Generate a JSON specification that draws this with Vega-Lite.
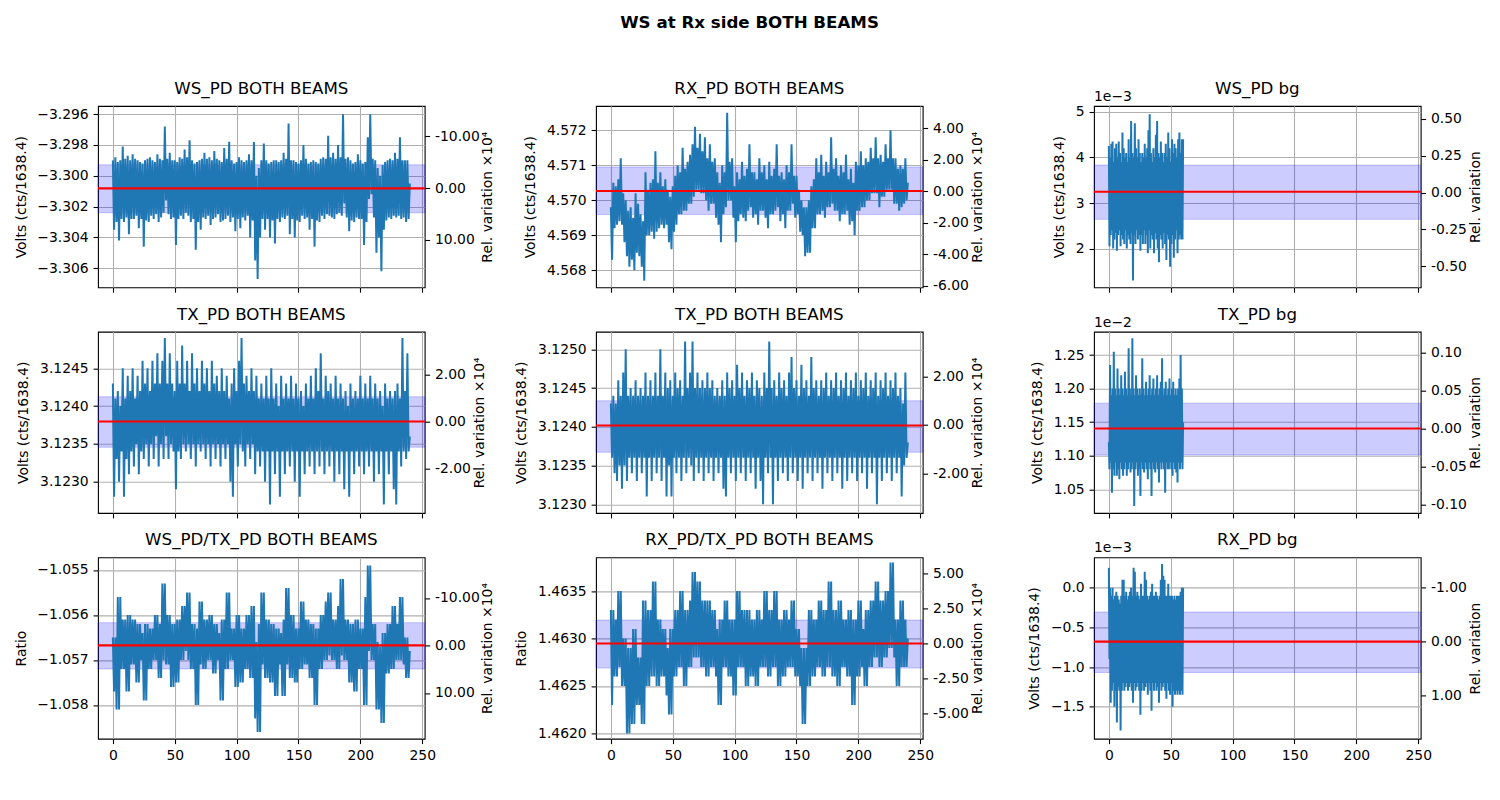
{
  "$schema": "https://vega.github.io/schema/vega-lite/v6.json",
  "title": {"text": "WS at Rx side BOTH BEAMS", "fontWeight": "bold", "fontSize": 16.67, "anchor": "middle", "offset": 49, "dx": 1.5},
  "padding": {"left": 13, "top": 14, "right": 0, "bottom": 0},
  "background": "white",
  "config": {
    "font": "DejaVu Sans",
    "view": {"stroke": "black", "strokeWidth": 1.1},
    "title": {"font": "DejaVu Sans", "fontSize": 16.67, "fontWeight": "normal", "color": "black", "offset": 8.3, "baseline": "alphabetic"},
    "axis": {
      "domain": false, "grid": false, "tickCount": 12,
      "labelFont": "DejaVu Sans", "labelFontSize": 13.9, "labelColor": "black", "labelPadding": 4.9,
      "labelFlush": false, "labelOverlap": false, "labelBound": false,
      "titleFont": "DejaVu Sans", "titleFontSize": 13.9, "titleFontWeight": "normal", "titleColor": "black", "titlePadding": 5.6,
      "tickColor": "black", "tickSize": 4.9, "tickWidth": 1.1,
      "gridColor": "#b0b0b0", "gridWidth": 1.1
    },
    "axisLeft": {"titlePadding": 8.6},
    "axisRight": {"titlePadding": 1.6}
  },
  "datasets": {
    "main": [
      {"t":0,"a":-3.2990,"b":4.5698,"c":3.1243,"d":3.1243,"e":-1.0565,"f":1.4633},
      {"t":1,"a":-3.3035,"b":4.5683,"c":3.1228,"d":3.1236,"e":-1.0577,"f":1.4623},
      {"t":2,"a":-3.2988,"b":4.5705,"c":3.1241,"d":3.1244,"e":-1.0565,"f":1.4633},
      {"t":3,"a":-3.3030,"b":4.5692,"c":3.1233,"d":3.1234,"e":-1.0581,"f":1.4626},
      {"t":4,"a":-3.2991,"b":4.5704,"c":3.1242,"d":3.1243,"e":-1.0556,"f":1.4632},
      {"t":5,"a":-3.3042,"b":4.5693,"c":3.1230,"d":3.1233,"e":-1.0581,"f":1.4626},
      {"t":6,"a":-3.2990,"b":4.5706,"c":3.1240,"d":3.1246,"e":-1.0556,"f":1.4635},
      {"t":7,"a":-3.3028,"b":4.5694,"c":3.1234,"d":3.1235,"e":-1.0572,"f":1.4627},
      {"t":8,"a":-3.2981,"b":4.5712,"c":3.1245,"d":3.1244,"e":-1.0561,"f":1.4635},
      {"t":9,"a":-3.3030,"b":4.5693,"c":3.1228,"d":3.1232,"e":-1.0572,"f":1.4625},
      {"t":10,"a":-3.2989,"b":4.5702,"c":3.1241,"d":3.1247,"e":-1.0561,"f":1.4630},
      {"t":11,"a":-3.3027,"b":4.5688,"c":3.1233,"d":3.1235,"e":-1.0577,"f":1.4625},
      {"t":12,"a":-3.2987,"b":4.5700,"c":3.1244,"d":3.1250,"e":-1.0560,"f":1.4630},
      {"t":13,"a":-3.3038,"b":4.5684,"c":3.1231,"d":3.1233,"e":-1.0577,"f":1.4620},
      {"t":14,"a":-3.2990,"b":4.5697,"c":3.1242,"d":3.1244,"e":-1.0560,"f":1.4629},
      {"t":15,"a":-3.3028,"b":4.5681,"c":3.1234,"d":3.1236,"e":-1.0571,"f":1.4620},
      {"t":16,"a":-3.2986,"b":4.5698,"c":3.1245,"d":3.1245,"e":-1.0561,"f":1.4629},
      {"t":17,"a":-3.3028,"b":4.5683,"c":3.1232,"d":3.1234,"e":-1.0571,"f":1.4621},
      {"t":18,"a":-3.2989,"b":4.5695,"c":3.1241,"d":3.1244,"e":-1.0561,"f":1.4631},
      {"t":19,"a":-3.3026,"b":4.5680,"c":3.1235,"d":3.1236,"e":-1.0575,"f":1.4621},
      {"t":20,"a":-3.2990,"b":4.5702,"c":3.1244,"d":3.1246,"e":-1.0562,"f":1.4631},
      {"t":21,"a":-3.3034,"b":4.5685,"c":3.1231,"d":3.1233,"e":-1.0575,"f":1.4623},
      {"t":22,"a":-3.2991,"b":4.5699,"c":3.1242,"d":3.1244,"e":-1.0562,"f":1.4628},
      {"t":23,"a":-3.3028,"b":4.5684,"c":3.1234,"d":3.1236,"e":-1.0570,"f":1.4623},
      {"t":24,"a":-3.2992,"b":4.5696,"c":3.1246,"d":3.1245,"e":-1.0564,"f":1.4628},
      {"t":25,"a":-3.3046,"b":4.5681,"c":3.1233,"d":3.1234,"e":-1.0579,"f":1.4621},
      {"t":26,"a":-3.2990,"b":4.5694,"c":3.1243,"d":3.1244,"e":-1.0562,"f":1.4634},
      {"t":27,"a":-3.3029,"b":4.5677,"c":3.1235,"d":3.1236,"e":-1.0579,"f":1.4621},
      {"t":28,"a":-3.2989,"b":4.5708,"c":3.1245,"d":3.1247,"e":-1.0562,"f":1.4634},
      {"t":29,"a":-3.3030,"b":4.5690,"c":3.1232,"d":3.1231,"e":-1.0572,"f":1.4625},
      {"t":30,"a":-3.2988,"b":4.5703,"c":3.1242,"d":3.1244,"e":-1.0563,"f":1.4633},
      {"t":31,"a":-3.3026,"b":4.5690,"c":3.1235,"d":3.1236,"e":-1.0572,"f":1.4625},
      {"t":32,"a":-3.2990,"b":4.5705,"c":3.1246,"d":3.1246,"e":-1.0563,"f":1.4633},
      {"t":33,"a":-3.3028,"b":4.5691,"c":3.1233,"d":3.1233,"e":-1.0570,"f":1.4626},
      {"t":34,"a":-3.2991,"b":4.5706,"c":3.1243,"d":3.1244,"e":-1.0560,"f":1.4636},
      {"t":35,"a":-3.3025,"b":4.5689,"c":3.1236,"d":3.1236,"e":-1.0570,"f":1.4626},
      {"t":36,"a":-3.2986,"b":4.5714,"c":3.1247,"d":3.1247,"e":-1.0560,"f":1.4636},
      {"t":37,"a":-3.3030,"b":4.5691,"c":3.1232,"d":3.1234,"e":-1.0574,"f":1.4625},
      {"t":38,"a":-3.2989,"b":4.5705,"c":3.1243,"d":3.1244,"e":-1.0562,"f":1.4632},
      {"t":39,"a":-3.3027,"b":4.5692,"c":3.1235,"d":3.1236,"e":-1.0574,"f":1.4625},
      {"t":40,"a":-3.2990,"b":4.5708,"c":3.1246,"d":3.1250,"e":-1.0553,"f":1.4632},
      {"t":41,"a":-3.3024,"b":4.5693,"c":3.1233,"d":3.1233,"e":-1.0570,"f":1.4626},
      {"t":42,"a":-3.2968,"b":4.5704,"c":3.1249,"d":3.1244,"e":-1.0553,"f":1.4631},
      {"t":43,"a":-3.3016,"b":4.5692,"c":3.1236,"d":3.1236,"e":-1.0571,"f":1.4626},
      {"t":44,"a":-3.2989,"b":4.5706,"c":3.1243,"d":3.1247,"e":-1.0560,"f":1.4631},
      {"t":45,"a":-3.3025,"b":4.5693,"c":3.1233,"d":3.1231,"e":-1.0571,"f":1.4624},
      {"t":46,"a":-3.2985,"b":4.5703,"c":3.1247,"d":3.1245,"e":-1.0560,"f":1.4629},
      {"t":47,"a":-3.3028,"b":4.5688,"c":3.1235,"d":3.1235,"e":-1.0576,"f":1.4622},
      {"t":48,"a":-3.2990,"b":4.5701,"c":3.1243,"d":3.1246,"e":-1.0562,"f":1.4631},
      {"t":49,"a":-3.3027,"b":4.5686,"c":3.1234,"d":3.1231,"e":-1.0576,"f":1.4622},
      {"t":50,"a":-3.2990,"b":4.5704,"c":3.1242,"d":3.1244,"e":-1.0562,"f":1.4631},
      {"t":51,"a":-3.3045,"b":4.5691,"c":3.1229,"d":3.1236,"e":-1.0575,"f":1.4626},
      {"t":52,"a":-3.2991,"b":4.5707,"c":3.1246,"d":3.1247,"e":-1.0561,"f":1.4633},
      {"t":53,"a":-3.3028,"b":4.5693,"c":3.1234,"d":3.1234,"e":-1.0575,"f":1.4626},
      {"t":54,"a":-3.2988,"b":4.5710,"c":3.1243,"d":3.1245,"e":-1.0561,"f":1.4633},
      {"t":55,"a":-3.3026,"b":4.5696,"c":3.1233,"d":3.1236,"e":-1.0570,"f":1.4627},
      {"t":56,"a":-3.2989,"b":4.5708,"c":3.1248,"d":3.1246,"e":-1.0558,"f":1.4635},
      {"t":57,"a":-3.3028,"b":4.5696,"c":3.1235,"d":3.1233,"e":-1.0570,"f":1.4627},
      {"t":58,"a":-3.2983,"b":4.5715,"c":3.1243,"d":3.1244,"e":-1.0558,"f":1.4635},
      {"t":59,"a":-3.3024,"b":4.5697,"c":3.1234,"d":3.1236,"e":-1.0568,"f":1.4625},
      {"t":60,"a":-3.2988,"b":4.5709,"c":3.1246,"d":3.1251,"e":-1.0555,"f":1.4633},
      {"t":61,"a":-3.3026,"b":4.5697,"c":3.1235,"d":3.1234,"e":-1.0570,"f":1.4625},
      {"t":62,"a":-3.2977,"b":4.5711,"c":3.1242,"d":3.1245,"e":-1.0555,"f":1.4633},
      {"t":63,"a":-3.3030,"b":4.5699,"c":3.1233,"d":3.1236,"e":-1.0572,"f":1.4627},
      {"t":64,"a":-3.2990,"b":4.5713,"c":3.1247,"d":3.1247,"e":-1.0562,"f":1.4634},
      {"t":65,"a":-3.3028,"b":4.5699,"c":3.1235,"d":3.1235,"e":-1.0572,"f":1.4627},
      {"t":66,"a":-3.2992,"b":4.5716,"c":3.1243,"d":3.1251,"e":-1.0562,"f":1.4637},
      {"t":67,"a":-3.3048,"b":4.5701,"c":3.1232,"d":3.1233,"e":-1.0580,"f":1.4628},
      {"t":68,"a":-3.2991,"b":4.5721,"c":3.1245,"d":3.1245,"e":-1.0563,"f":1.4637},
      {"t":69,"a":-3.3030,"b":4.5703,"c":3.1235,"d":3.1236,"e":-1.0580,"f":1.4628},
      {"t":70,"a":-3.2990,"b":4.5715,"c":3.1242,"d":3.1247,"e":-1.0557,"f":1.4636},
      {"t":71,"a":-3.3035,"b":4.5703,"c":3.1234,"d":3.1234,"e":-1.0571,"f":1.4628},
      {"t":72,"a":-3.2989,"b":4.5719,"c":3.1246,"d":3.1245,"e":-1.0557,"f":1.4636},
      {"t":73,"a":-3.3027,"b":4.5702,"c":3.1235,"d":3.1236,"e":-1.0572,"f":1.4627},
      {"t":74,"a":-3.2985,"b":4.5714,"c":3.1243,"d":3.1246,"e":-1.0561,"f":1.4634},
      {"t":75,"a":-3.3028,"b":4.5702,"c":3.1233,"d":3.1233,"e":-1.0572,"f":1.4627},
      {"t":76,"a":-3.2989,"b":4.5718,"c":3.1245,"d":3.1245,"e":-1.0561,"f":1.4634},
      {"t":77,"a":-3.3026,"b":4.5700,"c":3.1235,"d":3.1236,"e":-1.0570,"f":1.4626},
      {"t":78,"a":-3.2988,"b":4.5712,"c":3.1242,"d":3.1247,"e":-1.0560,"f":1.4634},
      {"t":79,"a":-3.3032,"b":4.5697,"c":3.1232,"d":3.1234,"e":-1.0570,"f":1.4626},
      {"t":80,"a":-3.2990,"b":4.5716,"c":3.1246,"d":3.1245,"e":-1.0560,"f":1.4634},
      {"t":81,"a":-3.3028,"b":4.5699,"c":3.1235,"d":3.1236,"e":-1.0573,"f":1.4627},
      {"t":82,"a":-3.2984,"b":4.5711,"c":3.1243,"d":3.1246,"e":-1.0562,"f":1.4633},
      {"t":83,"a":-3.3027,"b":4.5699,"c":3.1233,"d":3.1233,"e":-1.0573,"f":1.4627},
      {"t":84,"a":-3.2989,"b":4.5712,"c":3.1244,"d":3.1244,"e":-1.0562,"f":1.4633},
      {"t":85,"a":-3.3025,"b":4.5695,"c":3.1235,"d":3.1236,"e":-1.0570,"f":1.4626},
      {"t":86,"a":-3.2990,"b":4.5708,"c":3.1242,"d":3.1245,"e":-1.0564,"f":1.4631},
      {"t":87,"a":-3.3030,"b":4.5693,"c":3.1232,"d":3.1234,"e":-1.0579,"f":1.4623},
      {"t":88,"a":-3.2991,"b":4.5705,"c":3.1245,"d":3.1244,"e":-1.0561,"f":1.4632},
      {"t":89,"a":-3.3029,"b":4.5688,"c":3.1235,"d":3.1236,"e":-1.0579,"f":1.4623},
      {"t":90,"a":-3.2982,"b":4.5710,"c":3.1242,"d":3.1246,"e":-1.0561,"f":1.4632},
      {"t":91,"a":-3.3028,"b":4.5696,"c":3.1233,"d":3.1232,"e":-1.0572,"f":1.4627},
      {"t":92,"a":-3.2989,"b":4.5708,"c":3.1244,"d":3.1244,"e":-1.0555,"f":1.4634},
      {"t":93,"a":-3.3026,"b":4.5698,"c":3.1235,"d":3.1231,"e":-1.0572,"f":1.4627},
      {"t":94,"a":-3.2978,"b":4.5725,"c":3.1241,"d":3.1247,"e":-1.0555,"f":1.4634},
      {"t":95,"a":-3.3030,"b":4.5700,"c":3.1230,"d":3.1236,"e":-1.0570,"f":1.4626},
      {"t":96,"a":-3.2990,"b":4.5711,"c":3.1243,"d":3.1245,"e":-1.0563,"f":1.4632},
      {"t":97,"a":-3.3027,"b":4.5700,"c":3.1228,"d":3.1234,"e":-1.0570,"f":1.4626},
      {"t":98,"a":-3.2992,"b":4.5712,"c":3.1245,"d":3.1246,"e":-1.0563,"f":1.4632},
      {"t":99,"a":-3.3036,"b":4.5695,"c":3.1235,"d":3.1236,"e":-1.0576,"f":1.4624},
      {"t":100,"a":-3.2991,"b":4.5704,"c":3.1242,"d":3.1244,"e":-1.0560,"f":1.4632},
      {"t":101,"a":-3.3028,"b":4.5688,"c":3.1232,"d":3.1233,"e":-1.0576,"f":1.4624},
      {"t":102,"a":-3.2988,"b":4.5708,"c":3.1246,"d":3.1248,"e":-1.0560,"f":1.4635},
      {"t":103,"a":-3.3034,"b":4.5694,"c":3.1235,"d":3.1236,"e":-1.0575,"f":1.4627},
      {"t":104,"a":-3.2990,"b":4.5706,"c":3.1249,"d":3.1245,"e":-1.0563,"f":1.4635},
      {"t":105,"a":-3.3027,"b":4.5696,"c":3.1234,"d":3.1234,"e":-1.0575,"f":1.4627},
      {"t":106,"a":-3.2991,"b":4.5711,"c":3.1243,"d":3.1247,"e":-1.0563,"f":1.4633},
      {"t":107,"a":-3.3029,"b":4.5695,"c":3.1232,"d":3.1236,"e":-1.0572,"f":1.4627},
      {"t":108,"a":-3.2990,"b":4.5707,"c":3.1244,"d":3.1244,"e":-1.0560,"f":1.4633},
      {"t":109,"a":-3.3026,"b":4.5694,"c":3.1235,"d":3.1233,"e":-1.0572,"f":1.4625},
      {"t":110,"a":-3.2986,"b":4.5709,"c":3.1242,"d":3.1246,"e":-1.0560,"f":1.4633},
      {"t":111,"a":-3.3040,"b":4.5697,"c":3.1233,"d":3.1236,"e":-1.0574,"f":1.4625},
      {"t":112,"a":-3.2990,"b":4.5716,"c":3.1245,"d":3.1245,"e":-1.0558,"f":1.4633},
      {"t":113,"a":-3.3029,"b":4.5698,"c":3.1235,"d":3.1234,"e":-1.0574,"f":1.4626},
      {"t":114,"a":-3.2978,"b":4.5708,"c":3.1242,"d":3.1247,"e":-1.0558,"f":1.4632},
      {"t":115,"a":-3.3055,"b":4.5695,"c":3.1231,"d":3.1236,"e":-1.0583,"f":1.4626},
      {"t":116,"a":-3.3000,"b":4.5708,"c":3.1244,"d":3.1244,"e":-1.0566,"f":1.4632},
      {"t":117,"a":-3.3067,"b":4.5696,"c":3.1234,"d":3.1232,"e":-1.0586,"f":1.4625},
      {"t":118,"a":-3.2995,"b":4.5706,"c":3.1241,"d":3.1246,"e":-1.0562,"f":1.4633},
      {"t":119,"a":-3.3040,"b":4.5693,"c":3.1232,"d":3.1236,"e":-1.0586,"f":1.4625},
      {"t":120,"a":-3.2990,"b":4.5712,"c":3.1243,"d":3.1245,"e":-1.0555,"f":1.4633},
      {"t":121,"a":-3.3028,"b":4.5697,"c":3.1234,"d":3.1233,"e":-1.0571,"f":1.4627},
      {"t":122,"a":-3.2979,"b":4.5708,"c":3.1241,"d":3.1244,"e":-1.0555,"f":1.4632},
      {"t":123,"a":-3.3035,"b":4.5697,"c":3.1230,"d":3.1230,"e":-1.0574,"f":1.4627},
      {"t":124,"a":-3.2990,"b":4.5710,"c":3.1244,"d":3.1247,"e":-1.0561,"f":1.4635},
      {"t":125,"a":-3.3028,"b":4.5695,"c":3.1234,"d":3.1236,"e":-1.0574,"f":1.4627},
      {"t":126,"a":-3.2992,"b":4.5706,"c":3.1241,"d":3.1245,"e":-1.0561,"f":1.4635},
      {"t":127,"a":-3.3040,"b":4.5692,"c":3.1227,"d":3.1234,"e":-1.0575,"f":1.4626},
      {"t":128,"a":-3.2991,"b":4.5711,"c":3.1245,"d":3.1251,"e":-1.0562,"f":1.4633},
      {"t":129,"a":-3.3029,"b":4.5696,"c":3.1234,"d":3.1236,"e":-1.0575,"f":1.4626},
      {"t":130,"a":-3.2990,"b":4.5707,"c":3.1241,"d":3.1245,"e":-1.0562,"f":1.4633},
      {"t":131,"a":-3.3044,"b":4.5696,"c":3.1231,"d":3.1230,"e":-1.0578,"f":1.4627},
      {"t":132,"a":-3.2990,"b":4.5709,"c":3.1243,"d":3.1246,"e":-1.0563,"f":1.4635},
      {"t":133,"a":-3.3028,"b":4.5697,"c":3.1234,"d":3.1236,"e":-1.0578,"f":1.4627},
      {"t":134,"a":-3.2991,"b":4.5716,"c":3.1240,"d":3.1244,"e":-1.0563,"f":1.4635},
      {"t":135,"a":-3.3030,"b":4.5698,"c":3.1228,"d":3.1233,"e":-1.0571,"f":1.4625},
      {"t":136,"a":-3.2990,"b":4.5707,"c":3.1244,"d":3.1247,"e":-1.0564,"f":1.4632},
      {"t":137,"a":-3.3027,"b":4.5694,"c":3.1234,"d":3.1236,"e":-1.0578,"f":1.4625},
      {"t":138,"a":-3.2985,"b":4.5708,"c":3.1241,"d":3.1245,"e":-1.0561,"f":1.4632},
      {"t":139,"a":-3.3028,"b":4.5696,"c":3.1231,"d":3.1234,"e":-1.0578,"f":1.4626},
      {"t":140,"a":-3.2989,"b":4.5706,"c":3.1243,"d":3.1246,"e":-1.0554,"f":1.4633},
      {"t":141,"a":-3.3026,"b":4.5692,"c":3.1234,"d":3.1236,"e":-1.0571,"f":1.4626},
      {"t":142,"a":-3.2966,"b":4.5710,"c":3.1241,"d":3.1244,"e":-1.0554,"f":1.4633},
      {"t":143,"a":-3.3038,"b":4.5697,"c":3.1232,"d":3.1233,"e":-1.0574,"f":1.4627},
      {"t":144,"a":-3.2990,"b":4.5708,"c":3.1244,"d":3.1247,"e":-1.0560,"f":1.4632},
      {"t":145,"a":-3.3028,"b":4.5697,"c":3.1234,"d":3.1236,"e":-1.0574,"f":1.4627},
      {"t":146,"a":-3.2990,"b":4.5716,"c":3.1241,"d":3.1249,"e":-1.0560,"f":1.4634},
      {"t":147,"a":-3.3040,"b":4.5699,"c":3.1230,"d":3.1234,"e":-1.0575,"f":1.4627},
      {"t":148,"a":-3.2991,"b":4.5707,"c":3.1243,"d":3.1245,"e":-1.0563,"f":1.4634},
      {"t":149,"a":-3.3029,"b":4.5695,"c":3.1234,"d":3.1236,"e":-1.0575,"f":1.4626},
      {"t":150,"a":-3.2992,"b":4.5707,"c":3.1241,"d":3.1246,"e":-1.0563,"f":1.4631},
      {"t":151,"a":-3.3030,"b":4.5696,"c":3.1228,"d":3.1233,"e":-1.0572,"f":1.4626},
      {"t":152,"a":-3.2990,"b":4.5703,"c":3.1242,"d":3.1244,"e":-1.0557,"f":1.4631},
      {"t":153,"a":-3.3026,"b":4.5691,"c":3.1234,"d":3.1236,"e":-1.0572,"f":1.4625},
      {"t":154,"a":-3.2980,"b":4.5700,"c":3.1240,"d":3.1248,"e":-1.0557,"f":1.4629},
      {"t":155,"a":-3.3028,"b":4.5690,"c":3.1231,"d":3.1232,"e":-1.0571,"f":1.4621},
      {"t":156,"a":-3.2989,"b":4.5698,"c":3.1243,"d":3.1245,"e":-1.0561,"f":1.4629},
      {"t":157,"a":-3.3027,"b":4.5684,"c":3.1234,"d":3.1236,"e":-1.0571,"f":1.4621},
      {"t":158,"a":-3.2992,"b":4.5698,"c":3.1241,"d":3.1246,"e":-1.0561,"f":1.4629},
      {"t":159,"a":-3.3035,"b":4.5685,"c":3.1232,"d":3.1234,"e":-1.0574,"f":1.4625},
      {"t":160,"a":-3.2991,"b":4.5700,"c":3.1244,"d":3.1244,"e":-1.0562,"f":1.4633},
      {"t":161,"a":-3.3028,"b":4.5685,"c":3.1234,"d":3.1236,"e":-1.0574,"f":1.4625},
      {"t":162,"a":-3.2990,"b":4.5704,"c":3.1241,"d":3.1249,"e":-1.0562,"f":1.4633},
      {"t":163,"a":-3.3046,"b":4.5692,"c":3.1231,"d":3.1233,"e":-1.0580,"f":1.4626},
      {"t":164,"a":-3.2991,"b":4.5706,"c":3.1245,"d":3.1245,"e":-1.0563,"f":1.4632},
      {"t":165,"a":-3.3029,"b":4.5692,"c":3.1234,"d":3.1236,"e":-1.0580,"f":1.4626},
      {"t":166,"a":-3.2992,"b":4.5712,"c":3.1242,"d":3.1246,"e":-1.0563,"f":1.4632},
      {"t":167,"a":-3.3030,"b":4.5696,"c":3.1232,"d":3.1234,"e":-1.0572,"f":1.4627},
      {"t":168,"a":-3.2989,"b":4.5708,"c":3.1247,"d":3.1244,"e":-1.0560,"f":1.4634},
      {"t":169,"a":-3.3026,"b":4.5696,"c":3.1234,"d":3.1236,"e":-1.0572,"f":1.4627},
      {"t":170,"a":-3.2988,"b":4.5713,"c":3.1241,"d":3.1246,"e":-1.0560,"f":1.4634},
      {"t":171,"a":-3.3028,"b":4.5697,"c":3.1231,"d":3.1232,"e":-1.0570,"f":1.4626},
      {"t":172,"a":-3.2989,"b":4.5707,"c":3.1244,"d":3.1245,"e":-1.0557,"f":1.4633},
      {"t":173,"a":-3.3025,"b":4.5695,"c":3.1234,"d":3.1236,"e":-1.0570,"f":1.4626},
      {"t":174,"a":-3.2974,"b":4.5711,"c":3.1242,"d":3.1247,"e":-1.0555,"f":1.4633},
      {"t":175,"a":-3.3026,"b":4.5698,"c":3.1232,"d":3.1234,"e":-1.0569,"f":1.4627},
      {"t":176,"a":-3.2988,"b":4.5708,"c":3.1243,"d":3.1244,"e":-1.0555,"f":1.4636},
      {"t":177,"a":-3.3027,"b":4.5698,"c":3.1234,"d":3.1236,"e":-1.0570,"f":1.4627},
      {"t":178,"a":-3.2985,"b":4.5718,"c":3.1241,"d":3.1246,"e":-1.0561,"f":1.4636},
      {"t":179,"a":-3.3028,"b":4.5699,"c":3.1230,"d":3.1233,"e":-1.0570,"f":1.4626},
      {"t":180,"a":-3.2989,"b":4.5709,"c":3.1244,"d":3.1245,"e":-1.0561,"f":1.4633},
      {"t":181,"a":-3.3025,"b":4.5697,"c":3.1234,"d":3.1236,"e":-1.0572,"f":1.4626},
      {"t":182,"a":-3.2980,"b":4.5712,"c":3.1241,"d":3.1247,"e":-1.0558,"f":1.4633},
      {"t":183,"a":-3.3024,"b":4.5697,"c":3.1231,"d":3.1234,"e":-1.0572,"f":1.4625},
      {"t":184,"a":-3.2988,"b":4.5707,"c":3.1243,"d":3.1244,"e":-1.0552,"f":1.4634},
      {"t":185,"a":-3.3026,"b":4.5694,"c":3.1234,"d":3.1236,"e":-1.0569,"f":1.4625},
      {"t":186,"a":-3.2960,"b":4.5710,"c":3.1241,"d":3.1246,"e":-1.0552,"f":1.4634},
      {"t":187,"a":-3.3018,"b":4.5696,"c":3.1229,"d":3.1232,"e":-1.0570,"f":1.4627},
      {"t":188,"a":-3.2989,"b":4.5708,"c":3.1242,"d":3.1245,"e":-1.0561,"f":1.4632},
      {"t":189,"a":-3.3027,"b":4.5696,"c":3.1234,"d":3.1236,"e":-1.0570,"f":1.4627},
      {"t":190,"a":-3.2988,"b":4.5713,"c":3.1240,"d":3.1247,"e":-1.0561,"f":1.4632},
      {"t":191,"a":-3.3036,"b":4.5697,"c":3.1228,"d":3.1233,"e":-1.0575,"f":1.4626},
      {"t":192,"a":-3.2990,"b":4.5706,"c":3.1243,"d":3.1244,"e":-1.0562,"f":1.4633},
      {"t":193,"a":-3.3029,"b":4.5693,"c":3.1234,"d":3.1236,"e":-1.0575,"f":1.4626},
      {"t":194,"a":-3.2992,"b":4.5709,"c":3.1241,"d":3.1246,"e":-1.0562,"f":1.4633},
      {"t":195,"a":-3.3030,"b":4.5694,"c":3.1231,"d":3.1234,"e":-1.0577,"f":1.4623},
      {"t":196,"a":-3.2991,"b":4.5705,"c":3.1242,"d":3.1245,"e":-1.0561,"f":1.4632},
      {"t":197,"a":-3.3027,"b":4.5690,"c":3.1234,"d":3.1236,"e":-1.0577,"f":1.4623},
      {"t":198,"a":-3.2986,"b":4.5711,"c":3.1241,"d":3.1247,"e":-1.0561,"f":1.4632},
      {"t":199,"a":-3.3028,"b":4.5697,"c":3.1232,"d":3.1233,"e":-1.0572,"f":1.4626},
      {"t":200,"a":-3.2990,"b":4.5710,"c":3.1244,"d":3.1244,"e":-1.0563,"f":1.4634},
      {"t":201,"a":-3.3028,"b":4.5697,"c":3.1234,"d":3.1236,"e":-1.0572,"f":1.4626},
      {"t":202,"a":-3.2992,"b":4.5714,"c":3.1241,"d":3.1246,"e":-1.0563,"f":1.4634},
      {"t":203,"a":-3.3045,"b":4.5698,"c":3.1231,"d":3.1234,"e":-1.0580,"f":1.4627},
      {"t":204,"a":-3.2991,"b":4.5710,"c":3.1243,"d":3.1245,"e":-1.0556,"f":1.4631},
      {"t":205,"a":-3.3030,"b":4.5698,"c":3.1234,"d":3.1236,"e":-1.0580,"f":1.4625},
      {"t":206,"a":-3.2975,"b":4.5712,"c":3.1241,"d":3.1247,"e":-1.0549,"f":1.4633},
      {"t":207,"a":-3.3015,"b":4.5700,"c":3.1232,"d":3.1232,"e":-1.0568,"f":1.4625},
      {"t":208,"a":-3.2960,"b":4.5711,"c":3.1244,"d":3.1244,"e":-1.0549,"f":1.4633},
      {"t":209,"a":-3.3012,"b":4.5700,"c":3.1234,"d":3.1236,"e":-1.0570,"f":1.4627},
      {"t":210,"a":-3.2989,"b":4.5715,"c":3.1241,"d":3.1246,"e":-1.0562,"f":1.4634},
      {"t":211,"a":-3.3027,"b":4.5702,"c":3.1230,"d":3.1234,"e":-1.0570,"f":1.4627},
      {"t":212,"a":-3.2990,"b":4.5712,"c":3.1243,"d":3.1245,"e":-1.0562,"f":1.4634},
      {"t":213,"a":-3.3050,"b":4.5702,"c":3.1234,"d":3.1236,"e":-1.0581,"f":1.4628},
      {"t":214,"a":-3.2995,"b":4.5718,"c":3.1241,"d":3.1247,"e":-1.0566,"f":1.4636},
      {"t":215,"a":-3.3040,"b":4.5702,"c":3.1231,"d":3.1230,"e":-1.0581,"f":1.4628},
      {"t":216,"a":-3.3000,"b":4.5712,"c":3.1242,"d":3.1244,"e":-1.0567,"f":1.4636},
      {"t":217,"a":-3.3062,"b":4.5698,"c":3.1234,"d":3.1236,"e":-1.0584,"f":1.4627},
      {"t":218,"a":-3.2993,"b":4.5713,"c":3.1240,"d":3.1246,"e":-1.0564,"f":1.4634},
      {"t":219,"a":-3.3035,"b":4.5701,"c":3.1227,"d":3.1233,"e":-1.0584,"f":1.4627},
      {"t":220,"a":-3.2991,"b":4.5711,"c":3.1243,"d":3.1245,"e":-1.0564,"f":1.4634},
      {"t":221,"a":-3.3029,"b":4.5701,"c":3.1234,"d":3.1236,"e":-1.0573,"f":1.4628},
      {"t":222,"a":-3.2990,"b":4.5716,"c":3.1241,"d":3.1247,"e":-1.0562,"f":1.4635},
      {"t":223,"a":-3.3027,"b":4.5703,"c":3.1231,"d":3.1234,"e":-1.0573,"f":1.4628},
      {"t":224,"a":-3.2989,"b":4.5712,"c":3.1242,"d":3.1244,"e":-1.0562,"f":1.4635},
      {"t":225,"a":-3.3028,"b":4.5703,"c":3.1234,"d":3.1236,"e":-1.0572,"f":1.4629},
      {"t":226,"a":-3.2990,"b":4.5720,"c":3.1241,"d":3.1246,"e":-1.0558,"f":1.4638},
      {"t":227,"a":-3.3026,"b":4.5703,"c":3.1229,"d":3.1233,"e":-1.0572,"f":1.4629},
      {"t":228,"a":-3.2985,"b":4.5712,"c":3.1242,"d":3.1245,"e":-1.0558,"f":1.4638},
      {"t":229,"a":-3.3027,"b":4.5699,"c":3.1227,"d":3.1236,"e":-1.0570,"f":1.4628},
      {"t":230,"a":-3.2989,"b":4.5712,"c":3.1243,"d":3.1247,"e":-1.0562,"f":1.4632},
      {"t":231,"a":-3.3026,"b":4.5699,"c":3.1234,"d":3.1234,"e":-1.0570,"f":1.4625},
      {"t":232,"a":-3.2975,"b":4.5709,"c":3.1241,"d":3.1244,"e":-1.0556,"f":1.4632},
      {"t":233,"a":-3.3028,"b":4.5697,"c":3.1232,"d":3.1236,"e":-1.0570,"f":1.4625},
      {"t":234,"a":-3.2990,"b":4.5710,"c":3.1249,"d":3.1245,"e":-1.0556,"f":1.4634},
      {"t":235,"a":-3.3027,"b":4.5698,"c":3.1234,"d":3.1231,"e":-1.0571,"f":1.4627},
      {"t":236,"a":-3.2990,"b":4.5709,"c":3.1242,"d":3.1243,"e":-1.0565,"f":1.4634},
      {"t":237,"a":-3.3030,"b":4.5699,"c":3.1233,"d":3.1235,"e":-1.0574,"f":1.4627},
      {"t":238,"a":-3.2990,"b":4.5712,"c":3.1247,"d":3.1247,"e":-1.0565,"f":1.4632},
      {"t":239,"a":-3.3028,"b":4.5700,"c":3.1234,"d":3.1236,"e":-1.0574,"f":1.4627},
      {"t":240,"a":-3.3005,"b":4.5705,"c":3.1236,"d":3.1238,"e":-1.0568,"f":1.4630}
    ],
    "bg": [
      {"t":0,"ws":4.25,"tx":1.12,"rx":0.25},{"t":0.5,"ws":2.05,"tx":1.08,"rx":-0.9},
      {"t":1,"ws":4.0,"tx":1.235,"rx":0.0},{"t":1.5,"ws":2.3,"tx":1.09,"rx":-1.45},
      {"t":2,"ws":4.3,"tx":1.19,"rx":-0.1},{"t":2.5,"ws":2.4,"tx":1.045,"rx":-1.3},
      {"t":3,"ws":4.35,"tx":1.2,"rx":0.0},{"t":3.5,"ws":2.0,"tx":1.08,"rx":-1.2},
      {"t":4,"ws":3.9,"tx":1.255,"rx":-0.15},{"t":4.5,"ws":2.2,"tx":1.07,"rx":-1.5},
      {"t":5,"ws":4.2,"tx":1.2,"rx":-0.1},{"t":5.5,"ws":2.35,"tx":1.09,"rx":-1.3},
      {"t":6,"ws":4.3,"tx":1.19,"rx":-0.05},{"t":6.5,"ws":1.95,"tx":1.07,"rx":-1.7},
      {"t":7,"ws":4.0,"tx":1.23,"rx":-0.1},{"t":7.5,"ws":2.3,"tx":1.08,"rx":-1.25},
      {"t":8,"ws":4.35,"tx":1.2,"rx":-0.15},{"t":8.5,"ws":2.4,"tx":1.065,"rx":-1.3},
      {"t":9,"ws":4.1,"tx":1.19,"rx":-0.2},{"t":9.5,"ws":2.05,"tx":1.09,"rx":-1.8},
      {"t":10,"ws":3.9,"tx":1.22,"rx":-0.1},{"t":10.5,"ws":2.3,"tx":1.08,"rx":-1.3},
      {"t":11,"ws":4.55,"tx":1.2,"rx":0.1},{"t":11.5,"ws":2.2,"tx":1.07,"rx":-1.2},
      {"t":12,"ws":4.2,"tx":1.19,"rx":0.1},{"t":12.5,"ws":2.1,"tx":1.08,"rx":-1.3},
      {"t":13,"ws":4.0,"tx":1.225,"rx":-0.1},{"t":13.5,"ws":2.4,"tx":1.09,"rx":-1.25},
      {"t":14,"ws":4.1,"tx":1.2,"rx":-0.05},{"t":14.5,"ws":2.0,"tx":1.07,"rx":-1.2},
      {"t":15,"ws":3.9,"tx":1.19,"rx":-0.15},{"t":15.5,"ws":2.3,"tx":1.08,"rx":-1.3},
      {"t":16,"ws":4.4,"tx":1.26,"rx":-0.1},{"t":16.5,"ws":2.2,"tx":1.09,"rx":-1.25},
      {"t":17,"ws":4.0,"tx":1.2,"rx":-0.05},{"t":17.5,"ws":2.1,"tx":1.075,"rx":-1.2},
      {"t":18,"ws":4.8,"tx":1.19,"rx":0.0},{"t":18.5,"ws":2.35,"tx":1.08,"rx":-1.3},
      {"t":19,"ws":4.1,"tx":1.275,"rx":-0.1},{"t":19.5,"ws":1.3,"tx":1.09,"rx":-1.45},
      {"t":20,"ws":4.0,"tx":1.2,"rx":0.25},{"t":20.5,"ws":2.3,"tx":1.025,"rx":-1.2},
      {"t":21,"ws":4.75,"tx":1.19,"rx":0.2},{"t":21.5,"ws":2.1,"tx":1.08,"rx":-1.3},
      {"t":22,"ws":4.2,"tx":1.22,"rx":-0.1},{"t":22.5,"ws":2.4,"tx":1.09,"rx":-1.25},
      {"t":23,"ws":4.0,"tx":1.2,"rx":-0.05},{"t":23.5,"ws":2.2,"tx":1.07,"rx":-1.2},
      {"t":24,"ws":4.4,"tx":1.19,"rx":-0.1},{"t":24.5,"ws":2.3,"tx":1.08,"rx":-1.3},
      {"t":25,"ws":4.1,"tx":1.2,"rx":-0.15},{"t":25.5,"ws":1.95,"tx":1.04,"rx":-1.6},
      {"t":26,"ws":3.9,"tx":1.19,"rx":0.05},{"t":26.5,"ws":2.3,"tx":1.09,"rx":-1.3},
      {"t":27,"ws":4.1,"tx":1.245,"rx":-0.1},{"t":27.5,"ws":2.1,"tx":1.08,"rx":-1.2},
      {"t":28,"ws":4.0,"tx":1.2,"rx":-0.1},{"t":28.5,"ws":2.4,"tx":1.075,"rx":-1.3},
      {"t":29,"ws":4.3,"tx":1.19,"rx":0.2},{"t":29.5,"ws":2.1,"tx":1.09,"rx":-1.25},
      {"t":30,"ws":4.0,"tx":1.21,"rx":0.1},{"t":30.5,"ws":2.3,"tx":1.08,"rx":-1.2},
      {"t":31,"ws":4.2,"tx":1.19,"rx":-0.1},{"t":31.5,"ws":1.9,"tx":1.065,"rx":-1.35},
      {"t":32,"ws":4.6,"tx":1.2,"rx":-0.15},{"t":32.5,"ws":2.4,"tx":1.09,"rx":-1.2},
      {"t":33,"ws":4.95,"tx":1.22,"rx":-0.1},{"t":33.5,"ws":2.0,"tx":1.08,"rx":-1.3},
      {"t":34,"ws":4.1,"tx":1.19,"rx":-0.05},{"t":34.5,"ws":2.3,"tx":1.04,"rx":-1.55},
      {"t":35,"ws":3.9,"tx":1.2,"rx":0.05},{"t":35.5,"ws":2.2,"tx":1.09,"rx":-1.2},
      {"t":36,"ws":4.2,"tx":1.215,"rx":-0.1},{"t":36.5,"ws":1.9,"tx":1.08,"rx":-1.3},
      {"t":37,"ws":4.0,"tx":1.19,"rx":-0.1},{"t":37.5,"ws":2.35,"tx":1.075,"rx":-1.2},
      {"t":38,"ws":4.5,"tx":1.2,"rx":-0.05},{"t":38.5,"ws":2.2,"tx":1.09,"rx":-1.3},
      {"t":39,"ws":4.8,"tx":1.22,"rx":-0.1},{"t":39.5,"ws":2.0,"tx":1.08,"rx":-1.25},
      {"t":40,"ws":4.1,"tx":1.19,"rx":-0.15},{"t":40.5,"ws":1.7,"tx":1.06,"rx":-1.45},
      {"t":41,"ws":4.0,"tx":1.2,"rx":-0.1},{"t":41.5,"ws":2.3,"tx":1.09,"rx":-1.2},
      {"t":42,"ws":4.35,"tx":1.21,"rx":0.1},{"t":42.5,"ws":2.2,"tx":1.08,"rx":-1.3},
      {"t":43,"ws":4.1,"tx":1.245,"rx":0.3},{"t":43.5,"ws":2.0,"tx":1.09,"rx":-1.25},
      {"t":44,"ws":3.9,"tx":1.19,"rx":0.15},{"t":44.5,"ws":2.35,"tx":1.08,"rx":-1.2},
      {"t":45,"ws":4.1,"tx":1.2,"rx":0.1},{"t":45.5,"ws":2.1,"tx":1.045,"rx":-1.3},
      {"t":46,"ws":4.3,"tx":1.21,"rx":-0.1},{"t":46.5,"ws":1.75,"tx":1.09,"rx":-1.4},
      {"t":47,"ws":4.0,"tx":1.19,"rx":-0.1},{"t":47.5,"ws":2.3,"tx":1.08,"rx":-1.2},
      {"t":48,"ws":4.55,"tx":1.2,"rx":0.05},{"t":48.5,"ws":2.2,"tx":1.08,"rx":-1.3},
      {"t":49,"ws":4.2,"tx":1.215,"rx":-0.1},{"t":49.5,"ws":1.6,"tx":1.09,"rx":-1.35},
      {"t":50,"ws":3.9,"tx":1.19,"rx":-0.1},{"t":50.5,"ws":2.1,"tx":1.08,"rx":-1.2},
      {"t":51,"ws":4.4,"tx":1.2,"rx":-0.1},{"t":51.5,"ws":2.3,"tx":1.07,"rx":-1.5},
      {"t":52,"ws":4.1,"tx":1.21,"rx":-0.15},{"t":52.5,"ws":1.8,"tx":1.09,"rx":-1.3},
      {"t":53,"ws":4.3,"tx":1.19,"rx":-0.1},{"t":53.5,"ws":2.2,"tx":1.08,"rx":-1.35},
      {"t":54,"ws":4.2,"tx":1.2,"rx":-0.15},{"t":54.5,"ws":2.4,"tx":1.075,"rx":-1.3},
      {"t":55,"ws":4.0,"tx":1.19,"rx":-0.1},{"t":55.5,"ws":1.9,"tx":1.06,"rx":-1.35},
      {"t":56,"ws":4.4,"tx":1.2,"rx":-0.1},{"t":56.5,"ws":2.2,"tx":1.09,"rx":-1.3},
      {"t":57,"ws":4.55,"tx":1.215,"rx":-0.1},{"t":57.5,"ws":2.3,"tx":1.08,"rx":-1.35},
      {"t":58,"ws":4.1,"tx":1.25,"rx":-0.05},{"t":58.5,"ws":2.2,"tx":1.09,"rx":-1.3},
      {"t":59,"ws":4.4,"tx":1.2,"rx":0.0},{"t":59.5,"ws":2.2,"tx":1.08,"rx":-1.35},
      {"t":60,"ws":4.4,"tx":1.15,"rx":0.0}
    ]
  },
  "columns": 3,
  "bounds": "flush",
  "spacing": {"row": 43.7, "column": 171},
  "concat": [
    {
      "width": 326.7, "height": 181.3, "title": "WS_PD BOTH BEAMS",
      "layer": [
        {"layer": [
          {"data": {"values": [{}]}, "mark": {"type": "rect", "fill": "blue", "fillOpacity": 0.2, "stroke": "blue", "strokeOpacity": 0.2, "strokeWidth": 1},
           "encoding": {"x": {"datum": -12}, "x2": {"datum": 252}, "y": {"datum": -3.3024}, "y2": {"datum": -3.29929}}},
          {"data": {"name": "main"}, "mark": {"type": "line", "color": "#1f77b4", "strokeWidth": 2},
           "encoding": {
             "x": {"field": "t", "type": "quantitative", "scale": {"domain": [-12, 252], "nice": false, "zero": false}, "axis": {"values": [0, 50, 100, 150, 200, 250], "tickCount": 12, "labels": false, "title": null, "grid": true}},
             "y": {"field": "a", "type": "quantitative", "scale": {"domain": [-3.30724, -3.29547], "nice": false, "zero": false}, "axis": {"title": "Volts (cts/1638.4)", "values": [-3.306, -3.304, -3.302, -3.3, -3.298, -3.296], "tickCount": 12, "format": ".3f", "grid": true, "labelOverlap": false}}}},
          {"data": {"values": [{}]}, "mark": {"type": "rule", "color": "red", "strokeWidth": 2.1}, "encoding": {"y": {"datum": -3.30082}}}
        ]},
        {"data": {"values": [{}]}, "mark": {"type": "rule", "opacity": 0},
         "encoding": {"y": {"datum": 0, "type": "quantitative", "scale": {"domain": [-15.9, 19.2], "reverse": true, "nice": false, "zero": false},
           "axis": {"orient": "right", "title": "Rel. variation ×10⁴", "titleAngle": 270, "titleBaseline": "top", "values": [-10, 0, 10], "tickCount": 12, "labelOverlap": false, "labelExpr": "replace(format(datum.value, '.2f'), '\u2212', '-')"}}}}
      ],
      "resolve": {"scale": {"y": "independent"}}
    },
    {
      "width": 326.7, "height": 181.3, "title": "RX_PD BOTH BEAMS",
      "layer": [
        {"layer": [
          {"data": {"values": [{}]}, "mark": {"type": "rect", "fill": "blue", "fillOpacity": 0.2, "stroke": "blue", "strokeOpacity": 0.2, "strokeWidth": 1},
           "encoding": {"x": {"datum": -12}, "x2": {"datum": 252}, "y": {"datum": 4.569591}, "y2": {"datum": 4.570952}}},
          {"data": {"name": "main"}, "mark": {"type": "line", "color": "#1f77b4", "strokeWidth": 2},
           "encoding": {
             "x": {"field": "t", "type": "quantitative", "scale": {"domain": [-12, 252], "nice": false, "zero": false}, "axis": {"values": [0, 50, 100, 150, 200, 250], "tickCount": 12, "labels": false, "title": null, "grid": true}},
             "y": {"field": "b", "type": "quantitative", "scale": {"domain": [4.567514, 4.572694], "nice": false, "zero": false}, "axis": {"title": "Volts (cts/1638.4)", "values": [4.568, 4.569, 4.57, 4.571, 4.572], "tickCount": 12, "format": ".3f", "grid": true, "labelOverlap": false}}}},
          {"data": {"values": [{}]}, "mark": {"type": "rule", "color": "red", "strokeWidth": 2.1}, "encoding": {"y": {"datum": 4.570266}}}
        ]},
        {"data": {"values": [{}]}, "mark": {"type": "rule", "opacity": 0},
         "encoding": {"y": {"datum": 0, "type": "quantitative", "scale": {"domain": [-6.11, 5.4], "nice": false, "zero": false},
           "axis": {"orient": "right", "title": "Rel. variation ×10⁴", "titleAngle": 270, "titleBaseline": "top", "values": [-6, -4, -2, 0, 2, 4], "tickCount": 12, "labelOverlap": false, "labelExpr": "replace(format(datum.value, '.2f'), '\u2212', '-')"}}}}
      ],
      "resolve": {"scale": {"y": "independent"}}
    },
    {
      "width": 326.7, "height": 181.3, "title": {"text": "WS_PD bg", "dy": 16},
      "layer": [
        {"layer": [
          {"data": {"values": [{}]}, "mark": {"type": "rect", "fill": "blue", "fillOpacity": 0.2, "stroke": "blue", "strokeOpacity": 0.2, "strokeWidth": 1},
           "encoding": {"x": {"datum": -12}, "x2": {"datum": 252}, "y": {"datum": 2.642}, "y2": {"datum": 3.833}}},
          {"data": {"name": "bg"}, "mark": {"type": "line", "color": "#1f77b4", "strokeWidth": 2},
           "encoding": {
             "x": {"field": "t", "type": "quantitative", "scale": {"domain": [-12, 252], "nice": false, "zero": false}, "axis": {"values": [0, 50, 100, 150, 200, 250], "tickCount": 12, "labels": false, "title": null, "grid": true}},
             "y": {"field": "ws", "type": "quantitative", "scale": {"domain": [1.15, 5.13], "nice": false, "zero": false}, "axis": {"title": "Volts (cts/1638.4)", "values": [2, 3, 4, 5], "tickCount": 12, "format": ".0f", "grid": true, "labelOverlap": false}}}},
          {"data": {"values": [{}]}, "mark": {"type": "rule", "color": "red", "strokeWidth": 2.1}, "encoding": {"y": {"datum": 3.248}}},
          {"data": {"values": [{}]}, "mark": {"type": "text", "text": "1e\u22123", "align": "left", "baseline": "alphabetic", "fontSize": 13.9, "dy": -5, "color": "black"},
           "encoding": {"x": {"datum": -12}, "y": {"datum": 5.13}}}
        ]},
        {"data": {"values": [{}]}, "mark": {"type": "rule", "opacity": 0},
         "encoding": {"y": {"datum": 0, "type": "quantitative", "scale": {"domain": [-0.643, 0.588], "nice": false, "zero": false},
           "axis": {"orient": "right", "title": "Rel. variation", "titleAngle": 270, "titleBaseline": "top", "values": [-0.5, -0.25, 0, 0.25, 0.5], "tickCount": 12, "labelOverlap": false, "labelExpr": "replace(format(datum.value, '.2f'), '\u2212', '-')"}}}}
      ],
      "resolve": {"scale": {"y": "independent"}}
    },
    {
      "width": 326.7, "height": 181.3, "title": "TX_PD BOTH BEAMS",
      "layer": [
        {"layer": [
          {"data": {"values": [{}]}, "mark": {"type": "rect", "fill": "blue", "fillOpacity": 0.2, "stroke": "blue", "strokeOpacity": 0.2, "strokeWidth": 1},
           "encoding": {"x": {"datum": -12}, "x2": {"datum": 252}, "y": {"datum": 3.123456}, "y2": {"datum": 3.124123}}},
          {"data": {"name": "main"}, "mark": {"type": "line", "color": "#1f77b4", "strokeWidth": 2},
           "encoding": {
             "x": {"field": "t", "type": "quantitative", "scale": {"domain": [-12, 252], "nice": false, "zero": false}, "axis": {"values": [0, 50, 100, 150, 200, 250], "tickCount": 12, "labels": false, "title": null, "grid": true}},
             "y": {"field": "c", "type": "quantitative", "scale": {"domain": [3.122586, 3.124984], "nice": false, "zero": false}, "axis": {"title": "Volts (cts/1638.4)", "values": [3.123, 3.1235, 3.124, 3.1245], "tickCount": 12, "format": ".4f", "grid": true, "labelOverlap": false}}}},
          {"data": {"values": [{}]}, "mark": {"type": "rule", "color": "red", "strokeWidth": 2.1}, "encoding": {"y": {"datum": 3.123796}}}
        ]},
        {"data": {"values": [{}]}, "mark": {"type": "rule", "opacity": 0},
         "encoding": {"y": {"datum": 0, "type": "quantitative", "scale": {"domain": [-3.885, 3.83], "nice": false, "zero": false},
           "axis": {"orient": "right", "title": "Rel. variation ×10⁴", "titleAngle": 270, "titleBaseline": "top", "values": [-2, 0, 2], "tickCount": 12, "labelOverlap": false, "labelExpr": "replace(format(datum.value, '.2f'), '\u2212', '-')"}}}}
      ],
      "resolve": {"scale": {"y": "independent"}}
    },
    {
      "width": 326.7, "height": 181.3, "title": "TX_PD BOTH BEAMS",
      "layer": [
        {"layer": [
          {"data": {"values": [{}]}, "mark": {"type": "rect", "fill": "blue", "fillOpacity": 0.2, "stroke": "blue", "strokeOpacity": 0.2, "strokeWidth": 1},
           "encoding": {"x": {"datum": -12}, "x2": {"datum": 252}, "y": {"datum": 3.123672}, "y2": {"datum": 3.124335}}},
          {"data": {"name": "main"}, "mark": {"type": "line", "color": "#1f77b4", "strokeWidth": 2},
           "encoding": {
             "x": {"field": "t", "type": "quantitative", "scale": {"domain": [-12, 252], "nice": false, "zero": false}, "axis": {"values": [0, 50, 100, 150, 200, 250], "tickCount": 12, "labels": false, "title": null, "grid": true}},
             "y": {"field": "d", "type": "quantitative", "scale": {"domain": [3.122888, 3.125227], "nice": false, "zero": false}, "axis": {"title": "Volts (cts/1638.4)", "values": [3.123, 3.1235, 3.124, 3.1245, 3.125], "tickCount": 12, "format": ".4f", "grid": true, "labelOverlap": false}}}},
          {"data": {"values": [{}]}, "mark": {"type": "rule", "color": "red", "strokeWidth": 2.1}, "encoding": {"y": {"datum": 3.124017}}}
        ]},
        {"data": {"values": [{}]}, "mark": {"type": "rule", "opacity": 0},
         "encoding": {"y": {"datum": 0, "type": "quantitative", "scale": {"domain": [-3.644, 3.863], "nice": false, "zero": false},
           "axis": {"orient": "right", "title": "Rel. variation ×10⁴", "titleAngle": 270, "titleBaseline": "top", "values": [-2, 0, 2], "tickCount": 12, "labelOverlap": false, "labelExpr": "replace(format(datum.value, '.2f'), '\u2212', '-')"}}}}
      ],
      "resolve": {"scale": {"y": "independent"}}
    },
    {
      "width": 326.7, "height": 181.3, "title": {"text": "TX_PD bg", "dy": 16},
      "layer": [
        {"layer": [
          {"data": {"values": [{}]}, "mark": {"type": "rect", "fill": "blue", "fillOpacity": 0.2, "stroke": "blue", "strokeOpacity": 0.2, "strokeWidth": 1},
           "encoding": {"x": {"datum": -12}, "x2": {"datum": 252}, "y": {"datum": 1.101}, "y2": {"datum": 1.1783}}},
          {"data": {"name": "bg"}, "mark": {"type": "line", "color": "#1f77b4", "strokeWidth": 2},
           "encoding": {
             "x": {"field": "t", "type": "quantitative", "scale": {"domain": [-12, 252], "nice": false, "zero": false}, "axis": {"values": [0, 50, 100, 150, 200, 250], "tickCount": 12, "labels": false, "title": null, "grid": true}},
             "y": {"field": "tx", "type": "quantitative", "scale": {"domain": [1.0147, 1.2847], "nice": false, "zero": false}, "axis": {"title": "Volts (cts/1638.4)", "values": [1.05, 1.1, 1.15, 1.2, 1.25], "tickCount": 12, "format": ".2f", "grid": true, "labelOverlap": false}}}},
          {"data": {"values": [{}]}, "mark": {"type": "rule", "color": "red", "strokeWidth": 2.1}, "encoding": {"y": {"datum": 1.1405}}},
          {"data": {"values": [{}]}, "mark": {"type": "text", "text": "1e\u22122", "align": "left", "baseline": "alphabetic", "fontSize": 13.9, "dy": -5, "color": "black"},
           "encoding": {"x": {"datum": -12}, "y": {"datum": 1.2847}}}
        ]},
        {"data": {"values": [{}]}, "mark": {"type": "rule", "opacity": 0},
         "encoding": {"y": {"datum": 0, "type": "quantitative", "scale": {"domain": [-0.111, 0.128], "nice": false, "zero": false},
           "axis": {"orient": "right", "title": "Rel. variation", "titleAngle": 270, "titleBaseline": "top", "values": [-0.1, -0.05, 0, 0.05, 0.1], "tickCount": 12, "labelOverlap": false, "labelExpr": "replace(format(datum.value, '.2f'), '\u2212', '-')"}}}}
      ],
      "resolve": {"scale": {"y": "independent"}}
    },
    {
      "width": 326.7, "height": 181.3, "title": "WS_PD/TX_PD BOTH BEAMS",
      "layer": [
        {"layer": [
          {"data": {"values": [{}]}, "mark": {"type": "rect", "fill": "blue", "fillOpacity": 0.2, "stroke": "blue", "strokeOpacity": 0.2, "strokeWidth": 1},
           "encoding": {"x": {"datum": -12}, "x2": {"datum": 252}, "y": {"datum": -1.0572}, "y2": {"datum": -1.056171}}},
          {"data": {"name": "main"}, "mark": {"type": "line", "color": "#1f77b4", "strokeWidth": 2},
           "encoding": {
             "x": {"field": "t", "type": "quantitative", "scale": {"domain": [-12, 252], "nice": false, "zero": false}, "axis": {"values": [0, 50, 100, 150, 200, 250], "tickCount": 12, "format": "d", "title": null, "grid": true}},
             "y": {"field": "e", "type": "quantitative", "scale": {"domain": [-1.05875, -1.05472], "nice": false, "zero": false}, "axis": {"title": "Ratio", "values": [-1.058, -1.057, -1.056, -1.055], "tickCount": 12, "format": ".3f", "grid": true, "labelOverlap": false}}}},
          {"data": {"values": [{}]}, "mark": {"type": "rule", "color": "red", "strokeWidth": 2.1}, "encoding": {"y": {"datum": -1.056676}}}
        ]},
        {"data": {"values": [{}]}, "mark": {"type": "rule", "opacity": 0},
         "encoding": {"y": {"datum": 0, "type": "quantitative", "scale": {"domain": [-18.53, 19.64], "reverse": true, "nice": false, "zero": false},
           "axis": {"orient": "right", "title": "Rel. variation ×10⁴", "titleAngle": 270, "titleBaseline": "top", "values": [-10, 0, 10], "tickCount": 12, "labelOverlap": false, "labelExpr": "replace(format(datum.value, '.2f'), '\u2212', '-')"}}}}
      ],
      "resolve": {"scale": {"y": "independent"}}
    },
    {
      "width": 326.7, "height": 181.3, "title": "RX_PD/TX_PD BOTH BEAMS",
      "layer": [
        {"layer": [
          {"data": {"values": [{}]}, "mark": {"type": "rect", "fill": "blue", "fillOpacity": 0.2, "stroke": "blue", "strokeOpacity": 0.2, "strokeWidth": 1},
           "encoding": {"x": {"datum": -12}, "x2": {"datum": 252}, "y": {"datum": 1.462688}, "y2": {"datum": 1.463194}}},
          {"data": {"name": "main"}, "mark": {"type": "line", "color": "#1f77b4", "strokeWidth": 2},
           "encoding": {
             "x": {"field": "t", "type": "quantitative", "scale": {"domain": [-12, 252], "nice": false, "zero": false}, "axis": {"values": [0, 50, 100, 150, 200, 250], "tickCount": 12, "format": "d", "title": null, "grid": true}},
             "y": {"field": "f", "type": "quantitative", "scale": {"domain": [1.461944, 1.463854], "nice": false, "zero": false}, "axis": {"title": "Ratio", "values": [1.462, 1.4625, 1.463, 1.4635], "tickCount": 12, "format": ".4f", "grid": true, "labelOverlap": false}}}},
          {"data": {"values": [{}]}, "mark": {"type": "rule", "color": "red", "strokeWidth": 2.1}, "encoding": {"y": {"datum": 1.462947}}}
        ]},
        {"data": {"values": [{}]}, "mark": {"type": "rule", "opacity": 0},
         "encoding": {"y": {"datum": 0, "type": "quantitative", "scale": {"domain": [-6.81, 6.14], "nice": false, "zero": false},
           "axis": {"orient": "right", "title": "Rel. variation ×10⁴", "titleAngle": 270, "titleBaseline": "top", "values": [-5, -2.5, 0, 2.5, 5], "tickCount": 12, "labelOverlap": false, "labelExpr": "replace(format(datum.value, '.2f'), '\u2212', '-')"}}}}
      ],
      "resolve": {"scale": {"y": "independent"}}
    },
    {
      "width": 326.7, "height": 181.3, "title": {"text": "RX_PD bg", "dy": 16},
      "layer": [
        {"layer": [
          {"data": {"values": [{}]}, "mark": {"type": "rect", "fill": "blue", "fillOpacity": 0.2, "stroke": "blue", "strokeOpacity": 0.2, "strokeWidth": 1},
           "encoding": {"x": {"datum": -12}, "x2": {"datum": 252}, "y": {"datum": -1.068}, "y2": {"datum": -0.306}}},
          {"data": {"name": "bg"}, "mark": {"type": "line", "color": "#1f77b4", "strokeWidth": 2},
           "encoding": {
             "x": {"field": "t", "type": "quantitative", "scale": {"domain": [-12, 252], "nice": false, "zero": false}, "axis": {"values": [0, 50, 100, 150, 200, 250], "tickCount": 12, "format": "d", "title": null, "grid": true}},
             "y": {"field": "rx", "type": "quantitative", "scale": {"domain": [-1.903, 0.382], "nice": false, "zero": false}, "axis": {"title": "Volts (cts/1638.4)", "values": [-1.5, -1, -0.5, 0], "tickCount": 12, "format": ".1f", "grid": true, "labelOverlap": false}}}},
          {"data": {"values": [{}]}, "mark": {"type": "rule", "color": "red", "strokeWidth": 2.1}, "encoding": {"y": {"datum": -0.68}}},
          {"data": {"values": [{}]}, "mark": {"type": "text", "text": "1e\u22123", "align": "left", "baseline": "alphabetic", "fontSize": 13.9, "dy": -5, "color": "black"},
           "encoding": {"x": {"datum": -12}, "y": {"datum": 0.382}}}
        ]},
        {"data": {"values": [{}]}, "mark": {"type": "rule", "opacity": 0},
         "encoding": {"y": {"datum": 0, "type": "quantitative", "scale": {"domain": [-1.555, 1.79], "reverse": true, "nice": false, "zero": false},
           "axis": {"orient": "right", "title": "Rel. variation", "titleAngle": 270, "titleBaseline": "top", "values": [-1, 0, 1], "tickCount": 12, "labelOverlap": false, "labelExpr": "replace(format(datum.value, '.2f'), '\u2212', '-')"}}}}
      ],
      "resolve": {"scale": {"y": "independent"}}
    }
  ]
}
